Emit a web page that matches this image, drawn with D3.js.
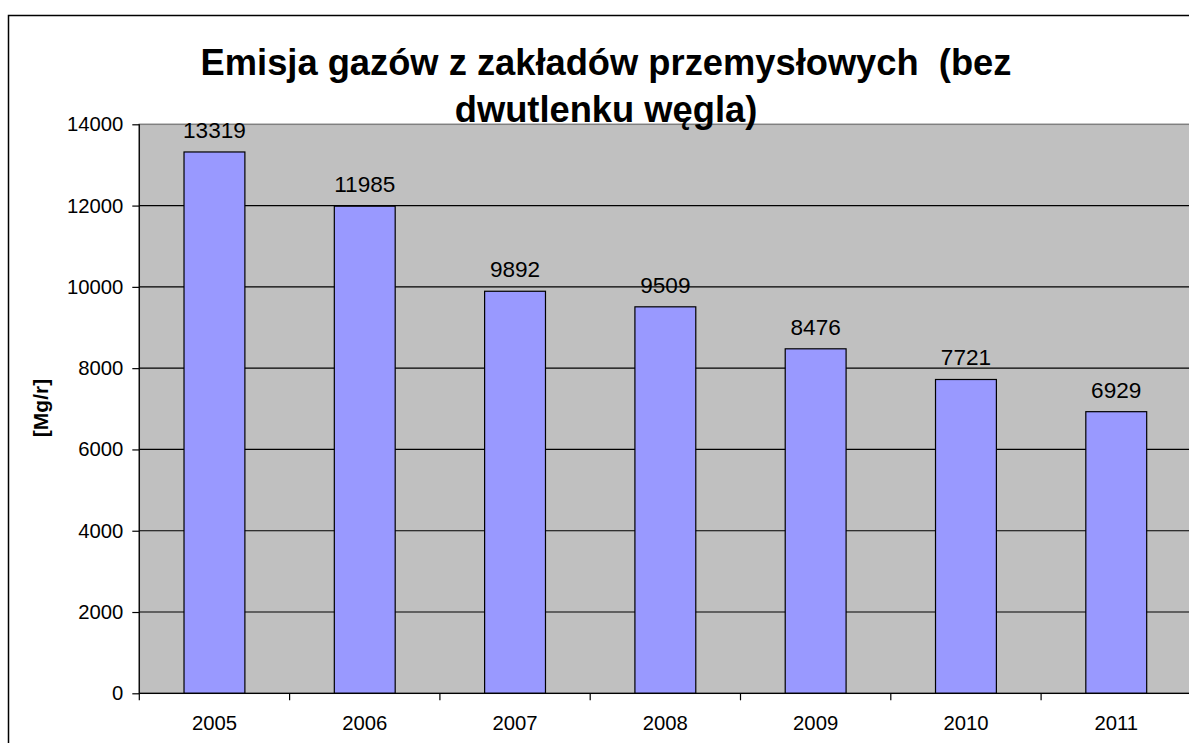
<!DOCTYPE html>
<html>
<head>
<meta charset="utf-8">
<script src="https://cdn.jsdelivr.net/npm/d3@7"></script>
<style>
  html, body { margin: 0; padding: 0; background: #fff; }
  svg { display: block; font-family: Arial, "Liberation Sans", sans-serif; }
</style>
</head>
<body>
<div id="chart"></div>
<script>
// data
const years = ["2005", "2006", "2007", "2008", "2009", "2010", "2011"];
const emissions = [13319, 11985, 9892, 9509, 8476, 7721, 6929];
const yTicks = [0, 2000, 4000, 6000, 8000, 10000, 12000, 14000];
const titleLines = ["Emisja gazów z zakładów przemysłowych  (bez", "dwutlenku węgla)"];
const yLabel = "[Mg/r]";

const width = 1189, height = 743;
const plot = { left: 139.3, top: 124.3, bottom: 693.3, step: 150.3 };

const svg = d3.select("#chart")
  .append("svg")
  .attr("width", width)
  .attr("height", height);

// outer chart border (cut off on right and bottom)
svg.append("rect")
  .attr("x", 8.5)
  .attr("y", 15.5)
  .attr("width", 1300)
  .attr("height", 900)
  .attr("fill", "#fff")
  .attr("stroke", "#000")
  .attr("stroke-width", 1.5);

const x = d3.scaleBand()
  .domain(years)
  .range([plot.left, plot.left + plot.step * years.length]);

const y = d3.scaleLinear()
  .domain([0, 14000])
  .range([plot.bottom, plot.top]);

const barW = x.bandwidth() * 0.405;

// plot area
svg.append("rect")
  .attr("x", x.range()[0])
  .attr("y", y(14000))
  .attr("width", x.range()[1] - x.range()[0])
  .attr("height", y(0) - y(14000))
  .attr("fill", "#c0c0c0")
  .attr("stroke", "#808080")
  .attr("stroke-width", 1.5);

// gridlines
svg.append("g")
  .selectAll("line")
  .data(yTicks.filter(d => d > 0 && d < 14000))
  .join("line")
  .attr("x1", x.range()[0])
  .attr("x2", x.range()[1])
  .attr("y1", d => y(d))
  .attr("y2", d => y(d))
  .attr("stroke", "#000")
  .attr("stroke-width", 1.2);

// bars
svg.append("g")
  .selectAll("rect")
  .data(emissions)
  .join("rect")
  .attr("x", (d, i) => x(years[i]) + (x.bandwidth() - barW) / 2)
  .attr("y", d => y(d))
  .attr("width", barW)
  .attr("height", d => y(0) - y(d))
  .attr("fill", "#9999ff")
  .attr("stroke", "#000")
  .attr("stroke-width", 1.2);

// value labels
svg.append("g")
  .selectAll("text")
  .data(emissions)
  .join("text")
  .attr("x", (d, i) => x(years[i]) + x.bandwidth() / 2)
  .attr("y", d => y(d) - 14)
  .attr("text-anchor", "middle")
  .attr("font-size", 22.6)
  .attr("fill", "#000")
  .text(d => d);

// y axis
const yAxis = svg.append("g")
  .attr("transform", `translate(${plot.left},0)`)
  .call(d3.axisLeft(y).tickValues(yTicks).tickSize(7).tickPadding(9).tickFormat(d3.format("d")));
yAxis.selectAll("line, path").attr("stroke", "#000").attr("stroke-width", 1.2);
yAxis.select(".domain").attr("d", `M0,${y(14000)}V${y(0)}`);
yAxis.selectAll("text").attr("font-size", 20.3).attr("font-family", null).attr("fill", "#000");

// x axis: ticks between categories
const xg = svg.append("g")
  .attr("transform", `translate(0,${plot.bottom})`);
xg.append("line")
  .attr("x1", x.range()[0])
  .attr("x2", x.range()[1])
  .attr("stroke", "#000")
  .attr("stroke-width", 1.2);
xg.selectAll(".tick")
  .data(years)
  .join("line")
  .attr("class", "tick")
  .attr("x1", d => x(d))
  .attr("x2", d => x(d))
  .attr("y1", 0)
  .attr("y2", 7)
  .attr("stroke", "#000")
  .attr("stroke-width", 1.2);
xg.selectAll("text")
  .data(years)
  .join("text")
  .attr("x", d => x(d) + x.bandwidth() / 2)
  .attr("y", 37)
  .attr("text-anchor", "middle")
  .attr("font-size", 20.3)
  .text(d => d);

// title
svg.append("text")
  .attr("text-anchor", "middle")
  .attr("font-size", 36.3)
  .attr("font-weight", "bold")
  .style("white-space", "pre")
  .selectAll("tspan")
  .data(titleLines)
  .join("tspan")
  .attr("x", 606)
  .attr("y", (d, i) => 75 + i * 47)
  .text(d => d);

// y axis title
svg.append("text")
  .attr("transform", "translate(48,408) rotate(-90)")
  .attr("text-anchor", "middle")
  .attr("font-size", 21)
  .attr("font-weight", "bold")
  .text(yLabel);
</script>
</body>
</html>
